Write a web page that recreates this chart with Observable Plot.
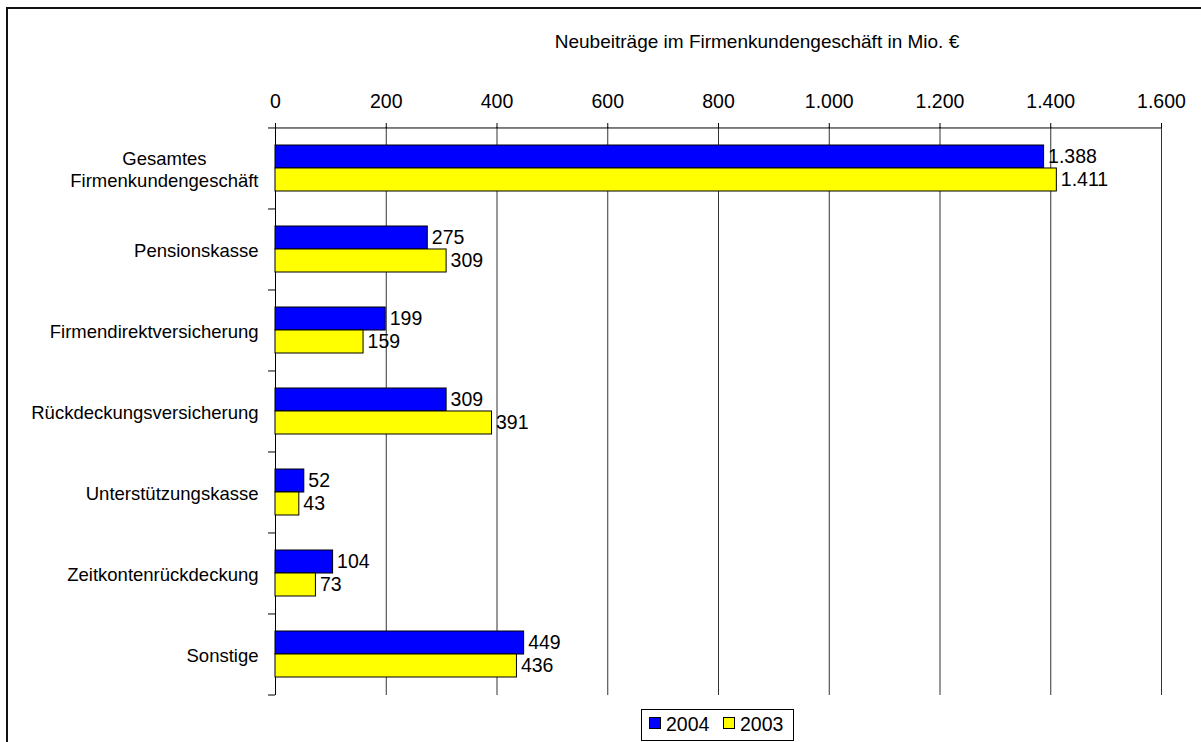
<!DOCTYPE html>
<html>
<head>
<meta charset="utf-8">
<script src="https://cdn.jsdelivr.net/npm/d3@7"></script>
<script src="https://cdn.jsdelivr.net/npm/@observablehq/plot@0.6"></script>
<style>
  html, body { margin: 0; padding: 0; background: #fff; overflow: hidden; }
  body { width: 1201px; height: 742px; position: relative; font-family: 'Liberation Sans', Arial, sans-serif; color: #000; }
  #frame { position: absolute; left: 6px; top: 7px; width: 1400px; height: 900px; border-left: 2px solid #111; border-top: 2px solid #111; }
  #head { position: relative; height: 60px; }
  #title { position: absolute; left: 757px; top: 32px; transform: translateX(-50%); white-space: nowrap; font-size: 19px; line-height: 19px; }
  #chart { position: relative; height: 646px; }
  #chart svg { display: block; }
  #legend { position: relative; margin-top: 3px; margin-left: 641px; width: 151px; height: 30px; border: 1px solid #000; font-size: 19.5px; }
  .sw { position: absolute; top: 7px; width: 10px; height: 10px; border: 1px solid #000; }
  .lt { position: absolute; top: 4px; line-height: 20px; }
</style>
</head>
<body>
<div id="frame"></div>
<div id="head"><div id="title"></div></div>
<div id="chart"></div>
<div id="legend"></div>
<script>
const title = "Neubeiträge im Firmenkundengeschäft in Mio. €";
const categories = ["Gesamtes\nFirmenkundengeschäft", "Pensionskasse", "Firmendirektversicherung", "Rückdeckungsversicherung", "Unterstützungskasse", "Zeitkontenrückdeckung", "Sonstige"];
const seriesNames = ["2004", "2003"];
const seriesColors = ["#0000FF", "#FFFF00"];
const values2004 = [1388, 275, 199, 309, 52, 104, 449];
const values2003 = [1411, 309, 159, 391, 43, 73, 436];
const xTicks = [0, 200, 400, 600, 800, 1000, 1200, 1400, 1600];

const data = categories.map((c, i) => ({cat: c, v2004: values2004[i], v2003: values2003[i]}));
const fmt = d3.formatLocale({decimal: ",", thousands: ".", grouping: [3], currency: ["", " €"]}).format(",d");

document.getElementById("title").textContent = title;

const W = 1201, H = 646, MT = 67, MB = 11, ML = 275, MR = 40;
const PI = 0.433, PO = 0.22;
const step = (H - MT - MB) / (categories.length - PI + 2 * PO);
const bw = step * (1 - PI);

const chart = Plot.plot({
  width: W, height: H, marginTop: MT, marginBottom: MB, marginLeft: ML, marginRight: MR,
  style: {fontFamily: "'Liberation Sans', Arial, sans-serif", fontSize: "19px", color: "#000", background: "transparent", overflow: "visible"},
  x: {domain: [0, 1600], label: null},
  y: {domain: categories, paddingInner: PI, paddingOuter: PO, label: null},
  marks: [
    Plot.ruleX(xTicks, {stroke: "#333", strokeWidth: 1}),
    Plot.ruleX([0], {stroke: "#000", strokeWidth: 1}),
    Plot.ruleY([categories[0]], {dy: -step / 2, stroke: "#000", strokeWidth: 1}),
    Plot.axisX({anchor: "top", ticks: xTicks, tickSize: 5, tickPadding: 15, tickFormat: fmt, fontSize: 19.5, label: null}),
    Plot.axisY({anchor: "left", tickSize: 0, tickPadding: 17, fontSize: 18.5, lineHeight: 1.2, label: null}),
    Plot.axisY({anchor: "left", tickSize: 7, tickFormat: () => "", dy: -step / 2, label: null}),
    Plot.axisY({anchor: "left", ticks: [categories[categories.length - 1]], tickSize: 7, tickFormat: () => "", dy: step / 2, label: null}),
    Plot.barX(data, {y: "cat", x: "v2004", fill: seriesColors[0], stroke: "#000", strokeWidth: 1, insetBottom: bw / 2}),
    Plot.barX(data, {y: "cat", x: "v2003", fill: seriesColors[1], stroke: "#000", strokeWidth: 1, insetTop: bw / 2}),
    Plot.text(data, {y: "cat", x: "v2004", text: d => fmt(d.v2004), dx: 4, dy: -bw / 4, textAnchor: "start", fontSize: 19.5, fill: "#000"}),
    Plot.text(data, {y: "cat", x: "v2003", text: d => fmt(d.v2003), dx: 4, dy: bw / 4, textAnchor: "start", fontSize: 19.5, fill: "#000"})
  ]
});
document.getElementById("chart").appendChild(chart);

// center lines of multi-line category labels within their block
chart.querySelectorAll("text").forEach(t => {
  const spans = t.querySelectorAll("tspan");
  if (spans.length > 1) {
    const ws = Array.from(spans, s => s.getComputedTextLength());
    const maxW = Math.max(...ws);
    spans.forEach((s, i) => s.setAttribute("x", -(maxW - ws[i]) / 2));
  }
});

// legend
const legend = document.getElementById("legend");
const lefts = [[7, 24], [81, 98]];
seriesNames.forEach((name, i) => {
  const sw = document.createElement("div");
  sw.className = "sw"; sw.style.left = lefts[i][0] + "px"; sw.style.background = seriesColors[i];
  const lt = document.createElement("div");
  lt.className = "lt"; lt.style.left = lefts[i][1] + "px"; lt.textContent = name;
  legend.appendChild(sw); legend.appendChild(lt);
});
</script>
</body>
</html>
